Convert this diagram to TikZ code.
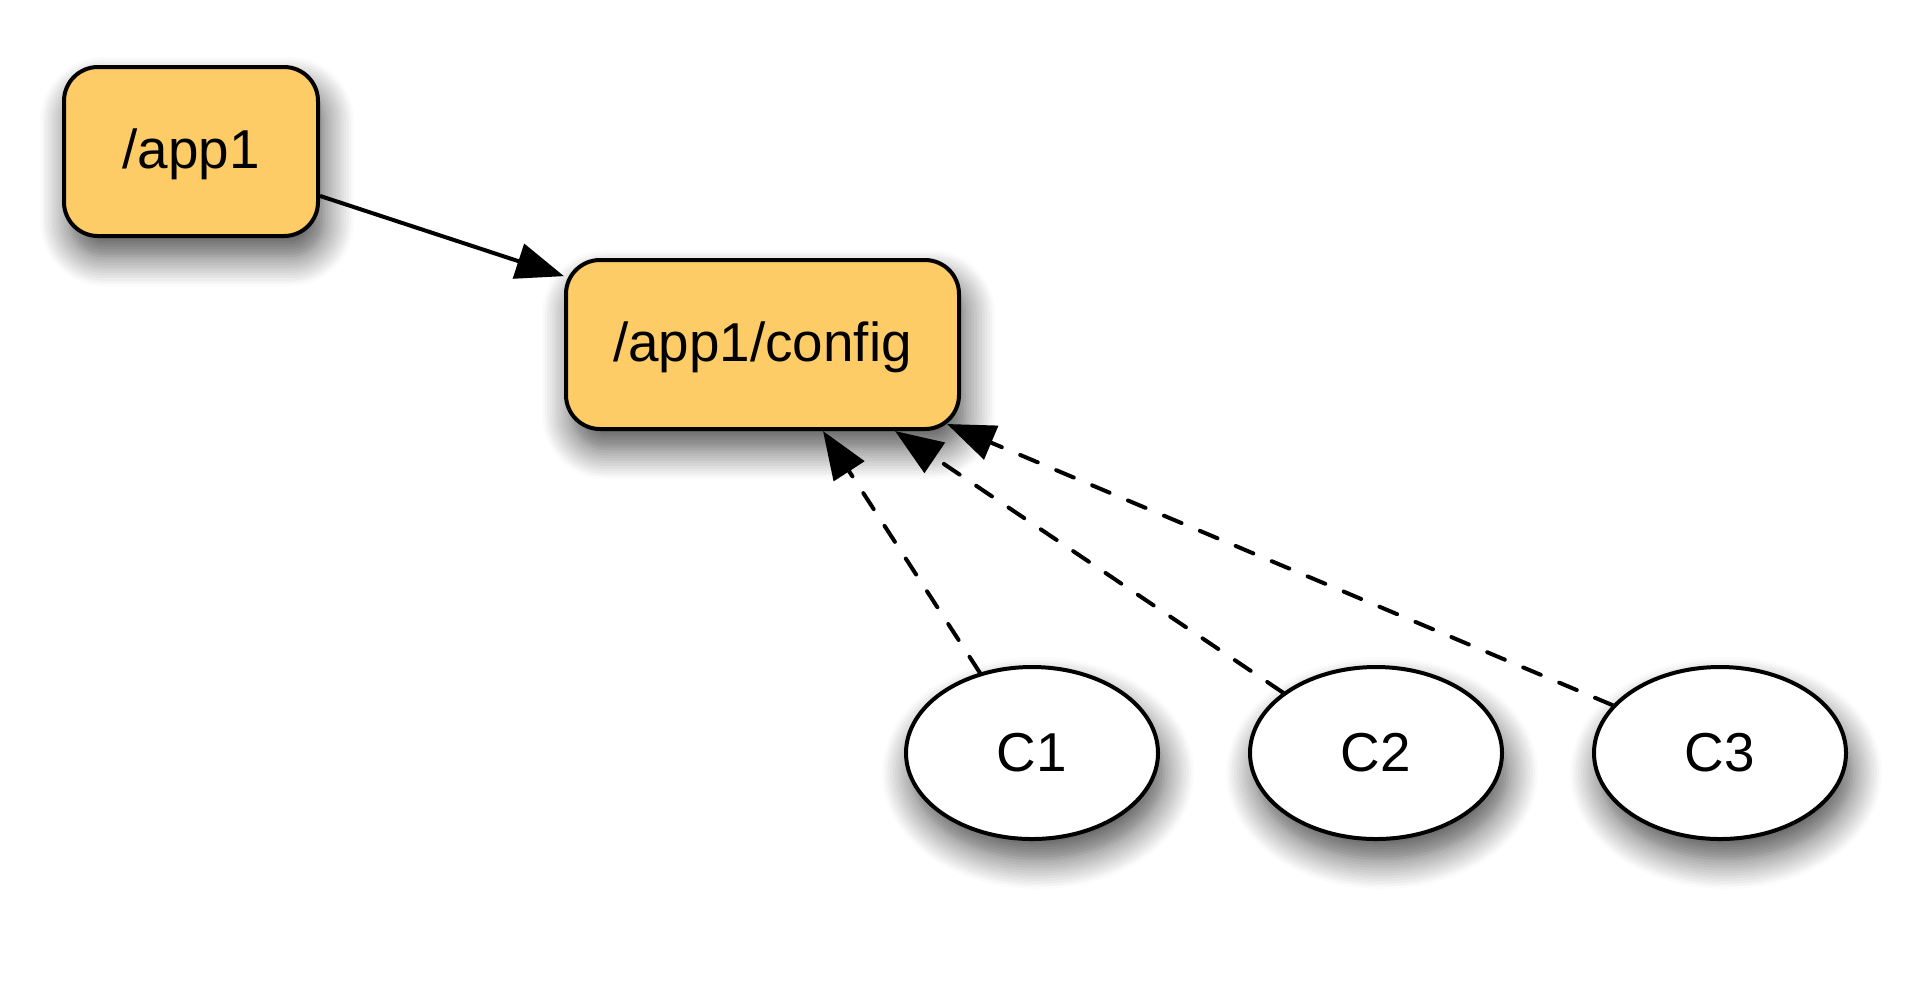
\documentclass[tikz,border=0pt]{standalone}
\usepackage{fontspec}
\setmainfont{Liberation Sans}
\usepackage{tikz}
\usetikzlibrary{arrows.meta}
\usetikzlibrary{shapes.geometric, shadows.blur}
\definecolor{boxfill}{RGB}{253,204,102}

\begin{document}
\begin{tikzpicture}[->,>={Triangle[length=0.48cm,width=0.36cm]},node distance=3.44cm,line width=0.04cm,
	font=\fontsize{15.6}{18}\selectfont,
	softshadow/.style={blur shadow={shadow xshift=0.06cm,shadow yshift=-0.2cm,shadow blur radius=0.3cm,shadow blur steps=12,shadow opacity=70}},
	box/.style={draw,fill=boxfill,rounded corners=0.34cm,minimum height=1.69cm,text depth=0.05cm,softshadow},
	client/.style={draw,fill=white,ellipse,inner sep=0pt,minimum width=2.52cm,minimum height=1.72cm,softshadow},
	dash line/.style={dash pattern=on 0.19cm off 0.2cm,line cap=round}]
\useasboundingbox (0,0) rectangle (19.2,-9.92);
\node[box,minimum width=2.54cm] (A) at (1.91,-1.515) {/app1};
\node[box,minimum width=3.93cm] (B) at (7.625,-3.445) {/app1/config};
\node[client] (C1) at (10.32,-7.53) {C1};
\node[client] (C2) [right of=C1] {C2};
\node[client] (C3) [right of=C2] {C3};

\path 	(A.-19.3) edge (B.161.3)
		(C1.123) edge[dash line] ([xshift=0.605cm]B.south)
		(C2.147) edge[dash line] ([xshift=1.325cm]B.south)
		(C3.156) edge[dash line] ([xshift=1.845cm,yshift=0.07cm]B.south)
;
\end{tikzpicture}
\end{document}
